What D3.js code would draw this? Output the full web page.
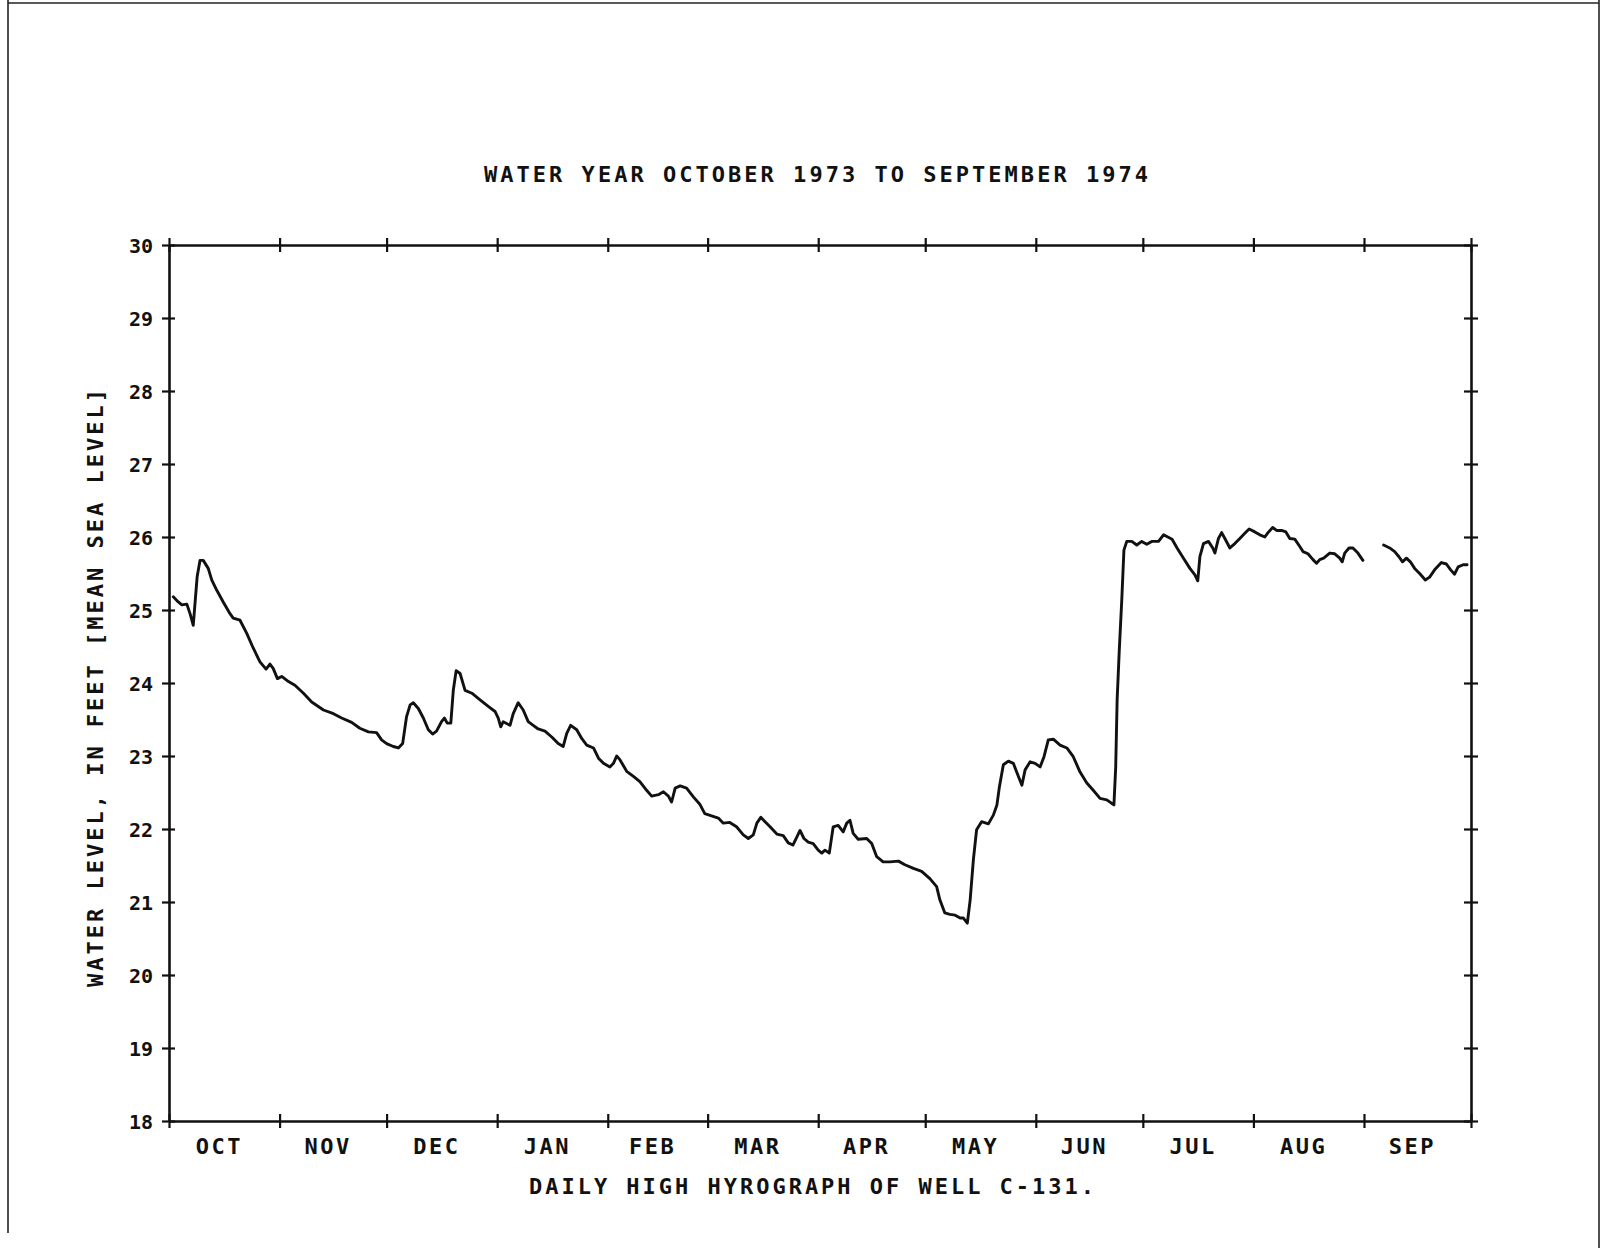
<!DOCTYPE html>
<html><head><meta charset="utf-8">
<script src="https://cdn.jsdelivr.net/npm/d3@7"></script>
<style>
body{margin:0;background:#fff}
svg{display:block}
text{font-family:"DejaVu Sans Mono",monospace;font-weight:bold;fill:#111}
</style>
</head><body>
<svg id="c" width="1604" height="1248"></svg>
<script>
// ---- data ----
const monthLabels = ["OCT","NOV","DEC","JAN","FEB","MAR","APR","MAY","JUN","JUL","AUG","SEP"];
const monthLengths = [31,30,31,31,28,31,30,31,30,31,31,30];
const yTickValues = [18,19,20,21,22,23,24,25,26,27,28,29,30];
const titleText = "WATER YEAR OCTOBER 1973 TO SEPTEMBER 1974";
const xTitleText = "DAILY HIGH HYROGRAPH OF WELL C-131.";
const yTitleText = "WATER LEVEL, IN FEET [MEAN SEA LEVEL]";

// day of water year (0 = start of Oct 1) and daily-high water level (ft); null = missing record
const day = [1.2,2.6,3.6,5.0,5.9,6.8,7.9,8.7,9.6,11.0,12.0,13.4,15.2,17.1,18.0,19.9,21.8,23.6,25.5,27.2,28.3,29.2,30.4,31.6,33.5,35.3,37.7,40.0,43.3,46.1,48.4,51.2,53.5,55.9,58.2,59.6,61.0,62.9,64.3,65.5,66.6,67.6,68.5,69.9,71.3,72.7,73.9,75.0,76.4,77.2,78.0,79.0,79.7,80.5,81.6,83.0,84.9,87.2,89.5,91.4,92.3,93.0,93.7,95.6,96.5,97.9,99.3,100.7,102.1,103.5,105.4,107.3,109.1,110.5,111.5,112.6,114.3,115.7,117.1,119.0,120.4,121.8,123.6,124.6,125.5,126.4,128.3,130.2,132.0,133.9,135.3,137.2,138.6,140.0,140.9,141.9,143.3,145.1,147.0,148.8,150.2,152.1,154.0,155.4,157.2,159.1,161.0,162.4,163.8,164.8,165.9,167.1,168.5,170.4,172.2,173.6,174.9,176.0,176.9,178.0,179.2,180.6,182.0,183.0,183.9,185.1,186.2,187.6,189.0,190.0,190.9,191.8,193.2,195.6,197.0,198.4,200.2,202.1,204.5,206.3,208.7,211.0,213.3,215.2,216.1,217.5,218.9,220.4,221.8,222.7,223.8,224.6,225.5,226.4,227.8,229.7,231.1,232.1,232.8,233.9,235.3,236.7,237.8,239.1,240.0,241.4,242.8,244.2,245.3,246.5,247.9,249.8,251.7,253.5,255.4,257.3,259.1,261.0,262.9,264.3,264.9,265.4,265.8,266.4,267.1,267.7,268.5,269.9,271.3,272.7,274.1,275.5,277.4,278.8,281.2,282.6,284.4,286.2,287.6,288.4,289.0,290.0,291.4,292.6,293.2,294.2,295.1,296.0,297.4,298.8,300.2,301.6,302.8,304.4,305.8,307.2,308.1,309.4,310.5,311.9,313.1,314.2,315.6,317.0,317.9,319.3,320.7,321.7,322.6,323.7,325.4,326.8,328.2,328.9,329.6,330.8,331.9,333.3,334.7,337.5,340.5,342.2,343.6,344.8,345.8,346.9,348.0,349.2,350.6,352.2,353.4,354.8,356.7,358.1,359.3,360.4,361.4,362.8,363.9];
const level = [25.18,25.11,25.07,25.08,24.95,24.79,25.46,25.68,25.68,25.57,25.41,25.27,25.11,24.95,24.89,24.86,24.68,24.48,24.29,24.19,24.26,24.20,24.06,24.09,24.02,23.97,23.86,23.74,23.63,23.58,23.52,23.46,23.38,23.33,23.32,23.22,23.17,23.13,23.11,23.17,23.54,23.70,23.73,23.65,23.52,23.36,23.30,23.34,23.47,23.52,23.45,23.45,23.90,24.17,24.13,23.90,23.86,23.77,23.68,23.61,23.52,23.40,23.47,23.42,23.58,23.73,23.63,23.47,23.42,23.37,23.34,23.26,23.17,23.13,23.31,23.42,23.36,23.24,23.15,23.11,22.97,22.90,22.85,22.90,23.00,22.95,22.79,22.72,22.65,22.53,22.45,22.47,22.51,22.45,22.37,22.56,22.59,22.56,22.44,22.34,22.21,22.18,22.15,22.08,22.09,22.03,21.92,21.87,21.92,22.08,22.16,22.10,22.03,21.93,21.91,21.81,21.78,21.89,21.98,21.87,21.82,21.80,21.71,21.67,21.71,21.67,22.03,22.05,21.96,22.08,22.12,21.94,21.86,21.87,21.80,21.62,21.55,21.55,21.56,21.51,21.46,21.42,21.32,21.21,21.03,20.85,20.83,20.82,20.78,20.78,20.71,21.03,21.58,21.99,22.10,22.07,22.19,22.33,22.58,22.88,22.93,22.90,22.76,22.60,22.81,22.92,22.90,22.85,22.99,23.22,23.23,23.15,23.11,22.99,22.78,22.63,22.53,22.42,22.40,22.35,22.33,22.85,23.77,24.45,25.14,25.82,25.94,25.94,25.89,25.94,25.90,25.94,25.94,26.03,25.97,25.85,25.71,25.57,25.48,25.40,25.73,25.91,25.94,25.85,25.78,25.98,26.06,25.98,25.85,25.91,25.98,26.05,26.11,26.07,26.03,26.00,26.06,26.13,26.09,26.09,26.07,25.98,25.97,25.87,25.80,25.77,25.69,25.64,25.69,25.71,25.78,25.77,25.71,25.66,25.78,25.85,25.85,25.78,25.68,null,25.89,25.85,25.80,25.73,25.66,25.71,25.66,25.57,25.50,25.41,25.45,25.55,25.65,25.63,25.55,25.49,25.59,25.62,25.62];

// ---- layout ----
const W = 1604, H = 1248;
const L = 169, R = 1471, T = 245, B = 1121;
const svg = d3.select("#c");

// month boundaries (days) and midpoints
const bounds = [0];
monthLengths.forEach(n => bounds.push(bounds[bounds.length-1] + n));
const mids = monthLengths.map((n,i) => bounds[i] + n/2);

const x = d3.scaleLinear().domain([0, 365]).range([L, R]);
const y = d3.scaleLinear().domain([18, 30]).range([B, T]);

// outer frame of the scanned sheet
const frame = svg.append("g").attr("stroke", "#222").attr("stroke-width", 1.6);
frame.append("line").attr("x1", 8).attr("y1", 0).attr("x2", 8).attr("y2", 1233);
frame.append("line").attr("x1", 8).attr("y1", 3).attr("x2", 1599).attr("y2", 3);
frame.append("line").attr("x1", 1599).attr("y1", 0).attr("x2", 1599).attr("y2", H);

function styleAxis(g, inner, horizontal) {
  g.select(".domain").attr("stroke", "#111").attr("stroke-width", 2.6);
  g.selectAll(".tick line").attr("stroke", "#111").attr("stroke-width", 2.2)
    .each(function() {
      const s = d3.select(this);
      if (horizontal) { s.attr("y1", -inner * Math.sign(+s.attr("y2") || 1)); }
      else { s.attr("x1", -inner * Math.sign(+s.attr("x2") || 1)); }
    });
  g.selectAll(".tick text").remove();
}

// left axis
const gl = svg.append("g").attr("transform", `translate(${L},0)`)
  .call(d3.axisLeft(y).tickValues(yTickValues).tickSizeInner(7).tickSizeOuter(0));
styleAxis(gl, 6, false);
// right axis
const gr = svg.append("g").attr("transform", `translate(${R},0)`)
  .call(d3.axisRight(y).tickValues(yTickValues).tickSizeInner(7).tickSizeOuter(0));
styleAxis(gr, 7, false);
// bottom axis
const gb = svg.append("g").attr("transform", `translate(0,${B})`)
  .call(d3.axisBottom(x).tickValues(bounds).tickSizeInner(7).tickSizeOuter(0));
styleAxis(gb, 7, true);
// top axis
const gt = svg.append("g").attr("transform", `translate(0,${T})`)
  .call(d3.axisTop(x).tickValues(bounds).tickSizeInner(7).tickSizeOuter(0));
styleAxis(gt, 7, true);

// y tick labels
svg.append("g").selectAll("text").data(yTickValues).join("text")
  .attr("x", 153).attr("y", d => y(d) + 8)
  .attr("text-anchor", "end").attr("font-size", 20)
  .text(d => d);

// month labels
svg.append("g").selectAll("text").data(monthLabels).join("text")
  .attr("x", (d,i) => x(mids[i]) - 5).attr("y", 1154)
  .attr("text-anchor", "middle").attr("font-size", 22).attr("letter-spacing", 2.5)
  .text(d => d);

// titles
svg.append("text").attr("x", 484).attr("y", 182).attr("font-size", 22)
  .attr("textLength", 664).attr("lengthAdjust", "spacing").text(titleText);
svg.append("text").attr("x", 529).attr("y", 1194).attr("font-size", 22)
  .attr("textLength", 565).attr("lengthAdjust", "spacing").text(xTitleText);
svg.append("text").attr("transform", "translate(103,987) rotate(-90)").attr("font-size", 22)
  .attr("textLength", 598).attr("lengthAdjust", "spacing").text(yTitleText);

// hydrograph line
const pts = day.map((d,i) => [d, level[i]]);
const line = d3.line().defined(p => p[1] !== null).x(p => x(p[0])).y(p => y(p[1]));
svg.append("path").datum(pts).attr("d", line)
  .attr("fill", "none").attr("stroke", "#111").attr("stroke-width", 2.9)
  .attr("stroke-linejoin", "round").attr("stroke-linecap", "round");
</script>
</body></html>
